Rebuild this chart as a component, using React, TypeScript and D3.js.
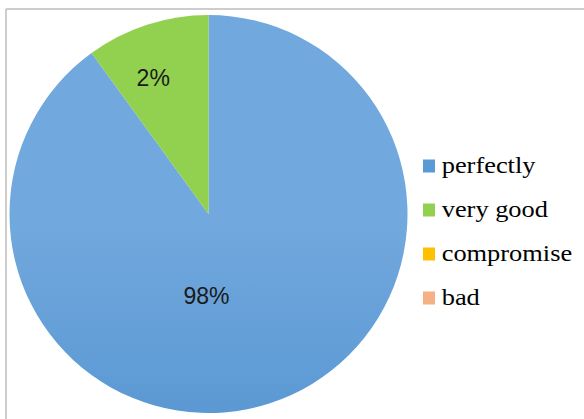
import React from "react";
import * as d3 from "d3";

const categories = ["perfectly", "very good", "compromise", "bad"];
const values = [90, 10, 0, 0];
const sliceLabels = ["98%", "2%", "", ""];
const colors = ["#5b9bd5", "#92d050", "#ffc000", "#f4b183"];

const W = 584;
const H = 419;

export default function App() {
  const cx = 208.5;
  const cy = 214;
  const r = 199;
  const pie = d3
    .pie<number>()
    .sort(null)
    .startAngle(0)
    .endAngle(2 * Math.PI)
    .value((d) => d);
  const arcs = pie(values);
  const arcGen = d3.arc<d3.PieArcDatum<number>>().innerRadius(0).outerRadius(r);
  const labelArc = d3.arc<d3.PieArcDatum<number>>().innerRadius(r * 0.72).outerRadius(r * 0.72);

  const legendY = d3.scaleLinear().domain([0, categories.length - 1]).range([166, 298]);

  return (
    <svg
      width={W}
      height={H}
      style={{ position: "absolute", left: 0, top: 0, background: "#fff" }}
    >
      <defs>
        <linearGradient id="blueGrad" gradientUnits="userSpaceOnUse" x1="0" y1={cy - r} x2="0" y2={cy + r}>
          <stop offset="0" stopColor="#71a8dd" />
          <stop offset="1" stopColor="#4287c8" />
        </linearGradient>
      </defs>
      <rect x={0} y={0} width={W} height={H} fill="#fff" />
      <line x1={6} y1={9} x2={W} y2={9} stroke="#bcbcbc" strokeWidth={1.5} />
      <line x1={6} y1={9} x2={6} y2={H} stroke="#bcbcbc" strokeWidth={1.5} />
      <g transform={`translate(${cx},${cy})`}>
        {arcs.map((a, i) =>
          a.value > 0 ? (
            <path key={i} d={arcGen(a) || ""} fill={i === 0 ? "url(#blueGrad)" : colors[i]} />
          ) : null
        )}
        {arcs.map((a, i) => {
          if (!sliceLabels[i]) return null;
          let [lx, ly] = labelArc.centroid(a);
          if (i === 0) {
            lx = -2;
            ly = 82;
          } else {
            lx -= 11;
          }
          return (
            <text
              key={"l" + i}
              x={lx}
              y={ly}
              textAnchor="middle"
              dominantBaseline="central"
              fontFamily="'Liberation Sans', Arial, sans-serif"
              fontSize={23}
              fill="#1a1a1a"
            >
              {sliceLabels[i]}
            </text>
          );
        })}
      </g>
      <g>
        {categories.map((c, i) => (
          <g key={c} transform={`translate(423,${legendY(i)})`}>
            <rect x={0} y={-6.5} width={12} height={13} fill={colors[i]} />
            <text
              x={17}
              y={6.5}
              transform="scale(1.1,1)"
              fontFamily="'Liberation Serif', 'Times New Roman', serif"
              fontSize={24}
              fill="#000"
            >
              {c}
            </text>
          </g>
        ))}
      </g>
    </svg>
  );
}
